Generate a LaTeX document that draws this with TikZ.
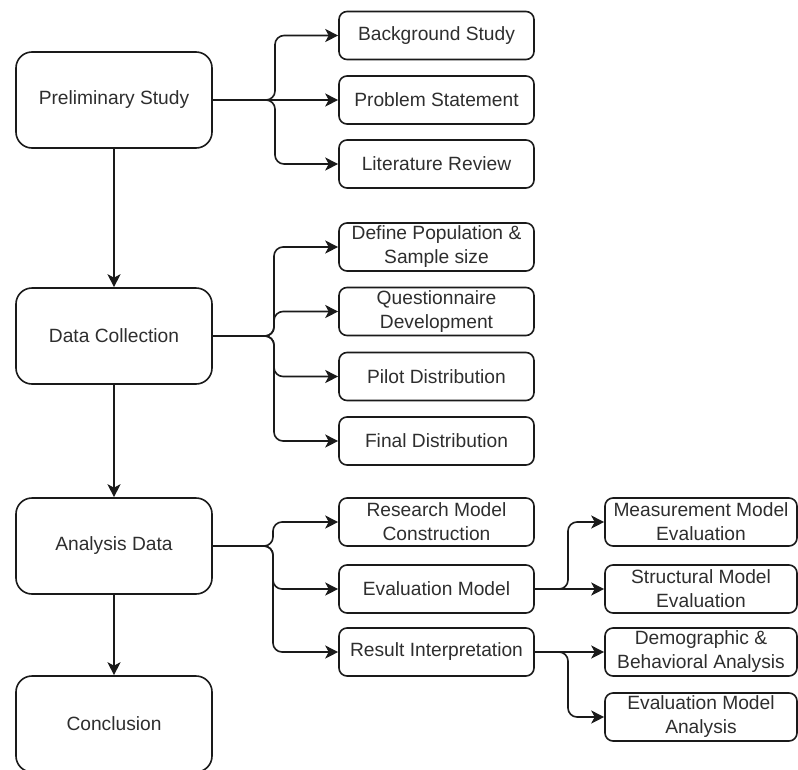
\documentclass[tikz,border=0pt]{standalone}
\usepackage{fontspec}
\setmainfont{Liberation Sans}
\usetikzlibrary{arrows.meta}
\definecolor{txt}{HTML}{2E2E2E}
\definecolor{ln}{HTML}{1A1A1A}
\begin{document}
\begin{tikzpicture}[x=1pt,y=-1pt,
  base/.style={draw=ln, line width=1.6pt, align=center, inner sep=0pt, text=txt,
    font=\fontsize{19.2}{24}\selectfont},
  bigbox/.style={base, rounded corners=16pt, minimum width=196pt, minimum height=96pt},
  smallbox/.style={base, rounded corners=8pt, minimum width=195pt, minimum height=48pt},
  rightbox/.style={base, rounded corners=8pt, minimum width=192pt, minimum height=48pt},
  conn/.style={draw=ln, line width=1.6pt, rounded corners=9pt,
    -{Stealth[length=13pt,width=13pt,inset=3.5pt]}},
  down/.style={draw=ln, line width=1.6pt, -{Stealth[length=13pt,width=13pt,inset=3.5pt]}}]
\useasboundingbox (0,0) rectangle (798,769);
\clip (0,0) rectangle (798,769);

% main column
\node[bigbox] (pre) at (114,100) {Preliminary Study};
\node[bigbox] (dc)  at (114,336) {Data Collection};
\node[bigbox] (ad)  at (114,546) {Analysis Data};
\node[bigbox] (con) at (114,724) {Conclusion};

% group 1
\node[smallbox] (bs) at (436.5,35.5) {Background Study};
\node[smallbox] (pst) at (436.5,100) {Problem Statement};
\node[smallbox] (lr) at (436.5,164) {Literature Review};

% group 2
\node[smallbox] (dp) at (436.5,247) {Define Population \&\\Sample size};
\node[smallbox] (qd) at (436.5,311.5) {Questionnaire\\Development};
\node[smallbox] (pd) at (436.5,376.5) {Pilot Distribution};
\node[smallbox] (fd) at (436.5,441) {Final Distribution};

% group 3
\node[smallbox] (rm) at (436.5,522) {Research Model\\Construction};
\node[smallbox] (em) at (436.5,589) {Evaluation Model};
\node[smallbox] (ri) at (436.5,652) {Result Interpretation};

% right column
\node[rightbox] (mm) at (701,522) {Measurement Model\\Evaluation};
\node[rightbox] (sm) at (701,589) {Structural Model\\Evaluation};
\node[rightbox] (da) at (701,652) {Demographic \&\\Behavioral Analysis};
\node[rightbox] (ema) at (701,717) {Evaluation Model\\Analysis};

% bus coordinates
\coordinate (b1) at (275,0);
\coordinate (b2) at (274,0);
\coordinate (b3) at (273,0);
\coordinate (b4) at (568,0);

% vertical flow
\draw[down] (pre.south) -- (dc.north);
\draw[down] (dc.south) -- (ad.north);
\draw[down] (ad.south) -- (con.north);

% group 1 connectors
\draw[conn] (pre.east) -- (pre.east -| b1) |- (bs.west);
\draw[down] (pre.east) -- (pst.west);
\draw[conn] (pre.east) -- (pre.east -| b1) |- (lr.west);

% group 2 connectors
\draw[conn] (dc.east) -- (dc.east -| b2) |- (dp.west);
\draw[conn] (dc.east) -- (dc.east -| b2) |- (qd.west);
\draw[conn] (dc.east) -- (dc.east -| b2) |- (pd.west);
\draw[conn] (dc.east) -- (dc.east -| b2) |- (fd.west);

% group 3 connectors
\draw[conn] (ad.east) -- (ad.east -| b3) |- (rm.west);
\draw[conn] (ad.east) -- (ad.east -| b3) |- (em.west);
\draw[conn] (ad.east) -- (ad.east -| b3) |- (ri.west);

% right connectors
\draw[conn] (em.east) -- (em.east -| b4) |- (mm.west);
\draw[down] (em.east) -- (sm.west);
\draw[down] (ri.east) -- (da.west);
\draw[conn] (ri.east) -- (ri.east -| b4) |- (ema.west);
\end{tikzpicture}
\end{document}
